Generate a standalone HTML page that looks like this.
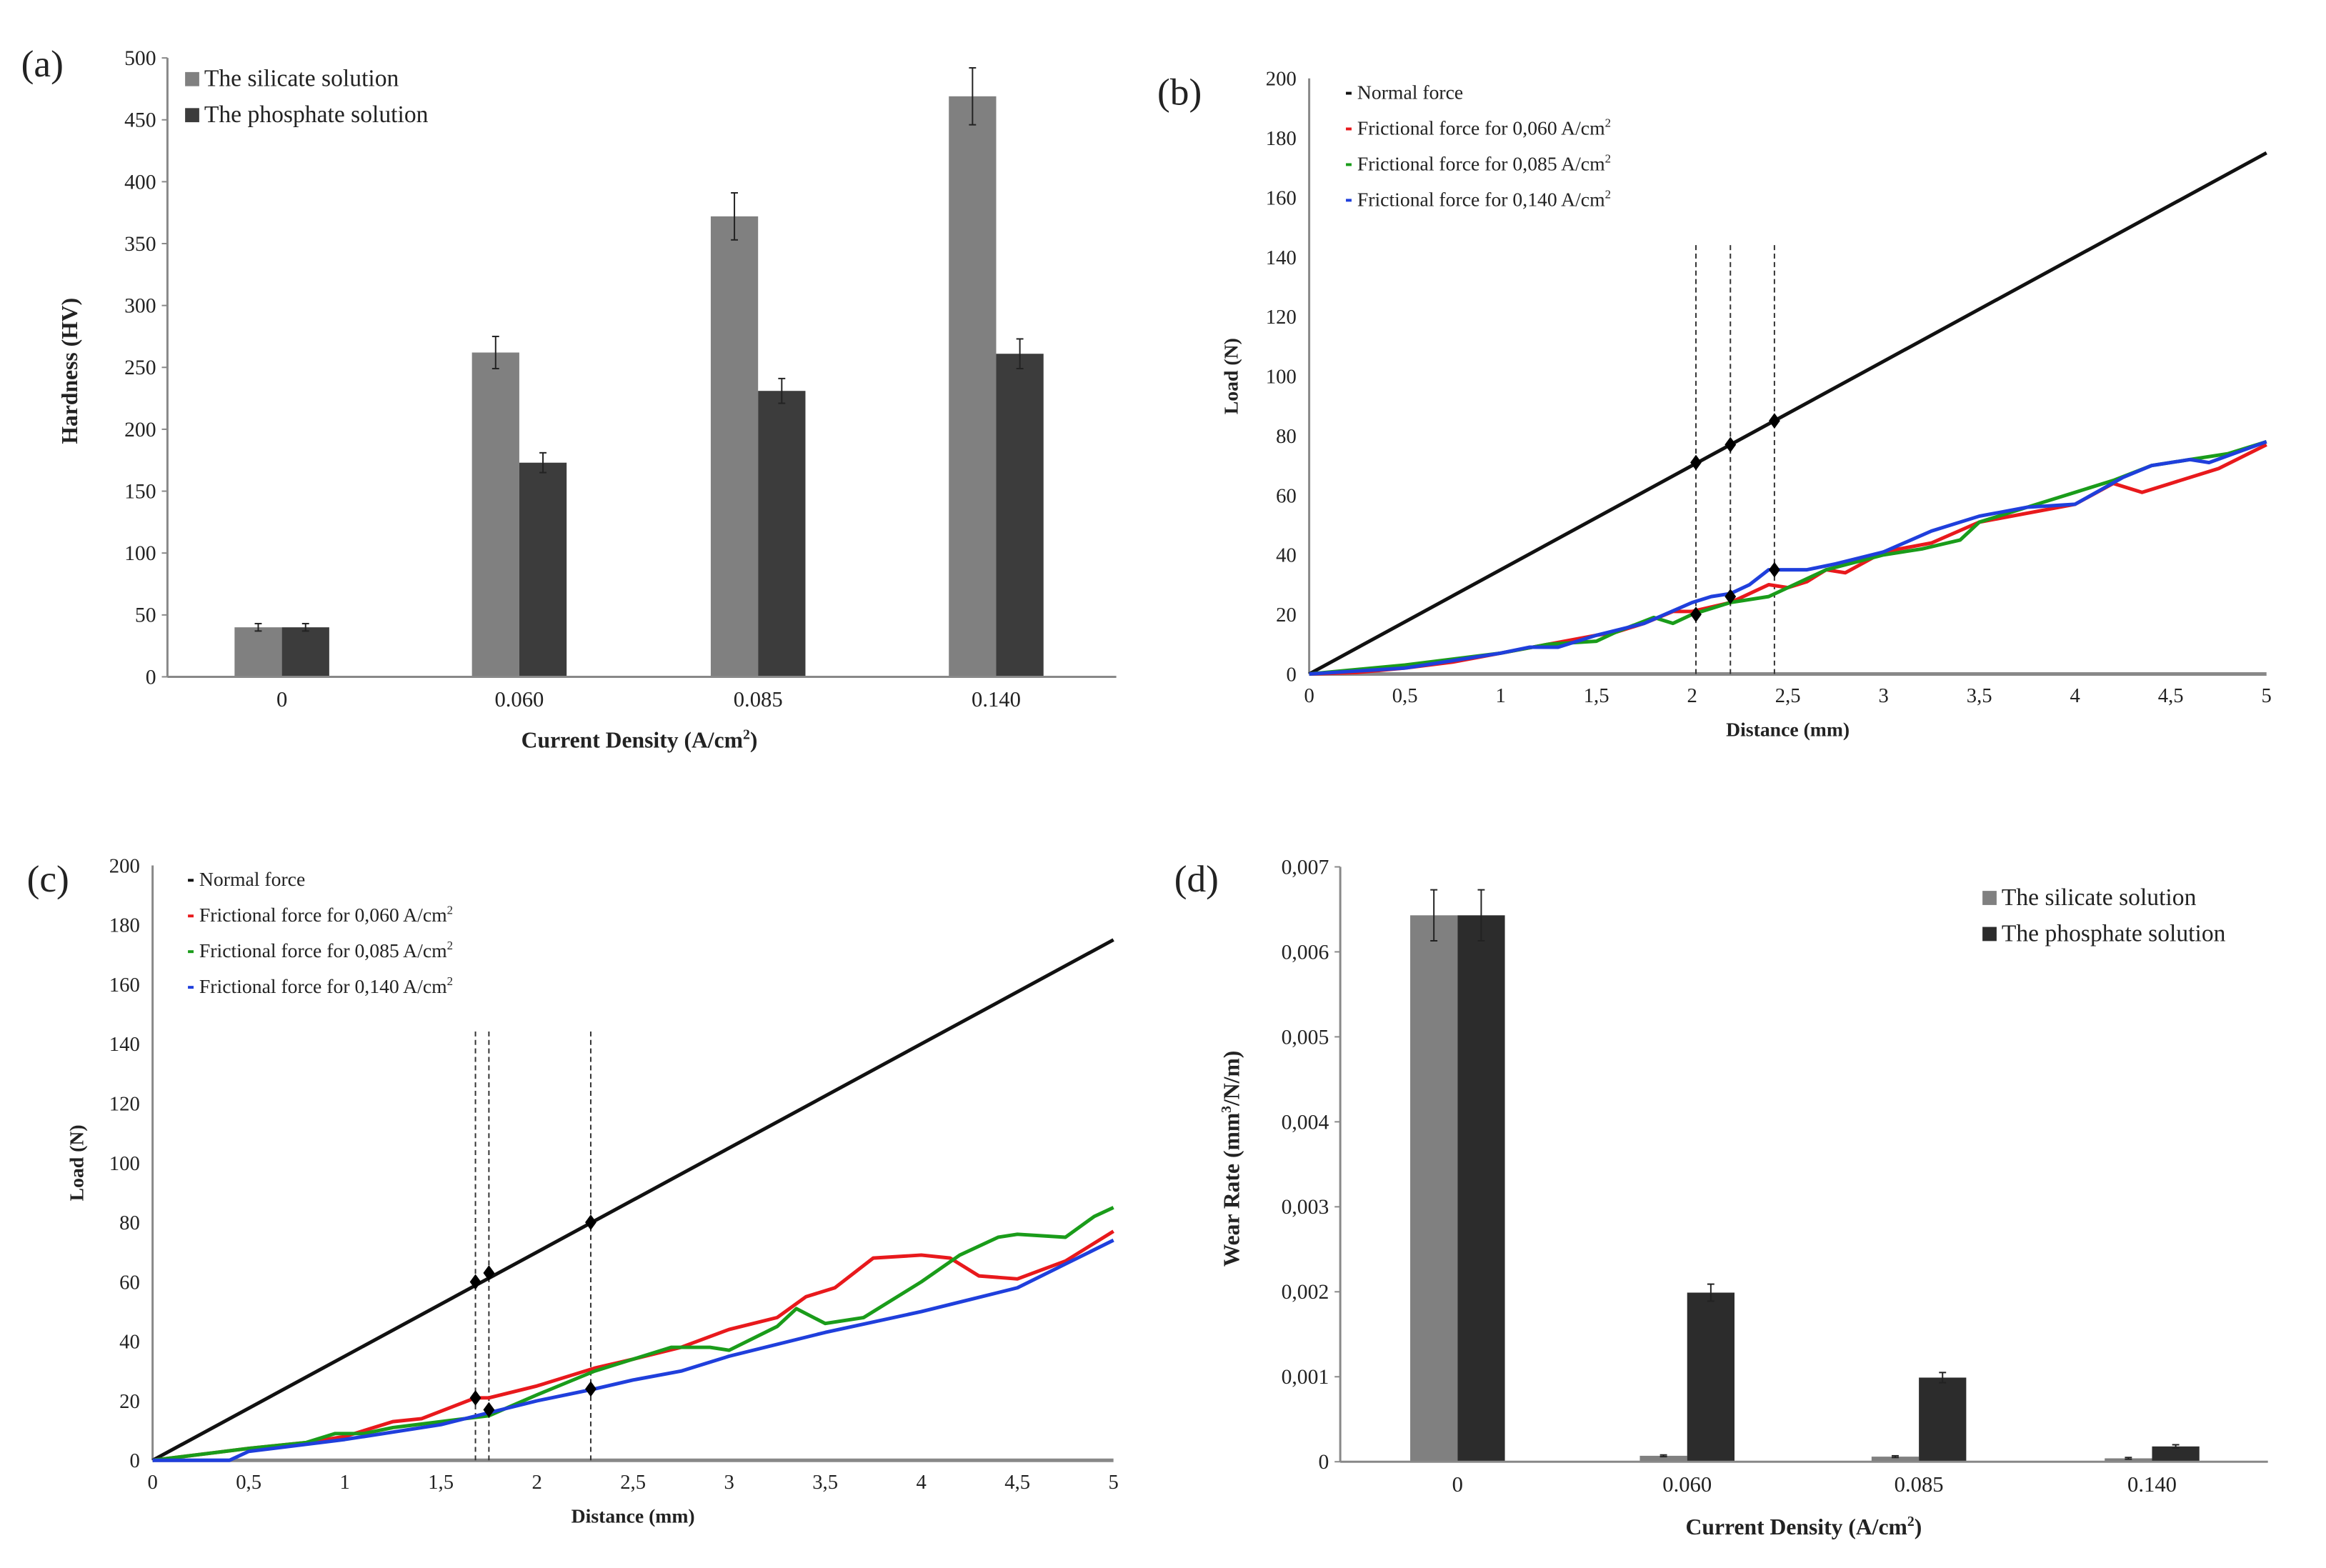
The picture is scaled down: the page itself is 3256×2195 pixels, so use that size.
<!DOCTYPE html>
<html><head><meta charset="utf-8">
<style>
html,body{margin:0;padding:0;background:#fff;}
svg{display:block;font-family:"Liberation Serif",serif;}
</style></head>
<body>
<svg width="3256" height="2195" viewBox="0 0 3256 2195" xmlns="http://www.w3.org/2000/svg"><g id="fig" transform="scale(0.989)"></g></svg>
<script>
// ---------- data ----------
const barCategories = ["0","0.060","0.085","0.140"];
const hardSilicate = [40, 262, 372, 469];
const hardSilicateErr = [3, 13, 19, 23];
const hardPhosphate = [40, 173, 231, 261];
const hardPhosphateErr = [3, 8, 10, 12];
const hardTicks = [0,50,100,150,200,250,300,350,400,450,500];

const wearSilicate = [0.00643, 0.00007, 0.00006, 0.00004];
const wearSilicateErr = [0.0003, 0.00001, 0.00001, 0.00001];
const wearPhosphate = [0.00643, 0.00199, 0.00099, 0.00018];
const wearPhosphateErr = [0.0003, 0.0001, 0.00006, 0.00002];
const wearTicks = [0,0.001,0.002,0.003,0.004,0.005,0.006,0.007];
const wearTickLabels = ["0","0,001","0,002","0,003","0,004","0,005","0,006","0,007"];

const loadTicks = [0,20,40,60,80,100,120,140,160,180,200];
const distTicks = [0,0.5,1,1.5,2,2.5,3,3.5,4,4.5,5];
const distTickLabels = ["0","0,5","1","1,5","2","2,5","3","3,5","4","4,5","5"];
const normalX = [0,5];
const normalY = [0,175];

const bRedX = [0,0.25,0.5,0.75,1,1.25,1.5,1.6,1.75,1.9,2,2.2,2.3,2.4,2.5,2.6,2.7,2.8,3,3.25,3.5,3.75,4,4.2,4.35,4.5,4.75,5];
const bRedY = [0,0.5,2,4,7,10,13,14,17,21,21,24,27,30,29,31,35,34,41,44,51,54,57,64,61,64,69,77];
const bGreenX = [0,0.5,1,1.25,1.5,1.6,1.8,1.9,2,2.2,2.4,2.5,2.7,3,3.2,3.4,3.5,3.75,4,4.2,4.4,4.6,4.8,5];
const bGreenY = [0,3,7,10,11,14,19,17,20,24,26,29,35,40,42,45,51,56,61,65,70,72,74,78];
const bBlueX = [0,0.5,1,1.15,1.3,1.5,1.75,2,2.1,2.2,2.3,2.4,2.6,2.75,3,3.25,3.5,3.75,4,4.25,4.4,4.6,4.7,5];
const bBlueY = [0,2,7,9,9,13,17,24,26,27,30,35,35,37,41,48,53,56,57,66,70,72,71,78];
const bDashX = [2.02,2.2,2.43];
const bNormMark = [71,77,85];
const bFricMark = [20,26,35];

const cRedX = [0,0.5,0.8,1,1.25,1.4,1.68,1.75,2,2.3,2.5,2.75,3,3.25,3.4,3.55,3.75,4,4.15,4.3,4.5,4.75,5];
const cRedY = [0,4,6,8,13,14,21,21,25,31,34,38,44,48,55,58,68,69,68,62,61,67,77];
const cGreenX = [0,0.5,0.8,0.95,1.1,1.25,1.5,1.75,2,2.3,2.5,2.7,2.9,3,3.25,3.35,3.5,3.7,4,4.2,4.4,4.5,4.75,4.9,5];
const cGreenY = [0,4,6,9,9,11,13,15,22,30,34,38,38,37,45,51,46,48,60,69,75,76,75,82,85];
const cBlueX = [0,0.4,0.5,1,1.5,1.75,2,2.3,2.5,2.75,3,3.5,4,4.25,4.5,4.75,5];
const cBlueY = [0,0,3,7,12,16,20,24,27,30,35,43,50,54,58,66,74];
const cDashX = [1.68,1.75,2.28];
const cNormMark = [60,63,80];
const cFricMark = [21,17,24];

// ---------- helpers ----------
const svg = document.getElementById('fig');
const NS = "http://www.w3.org/2000/svg";
function el(tag, attrs, parent){
  const e = document.createElementNS(NS, tag);
  for (const k in attrs) e.setAttribute(k, attrs[k]);
  (parent||svg).appendChild(e);
  return e;
}
function txt(x,y,s,size,opts,parent){
  const t = el('text',{x:x,y:y,'font-size':size,fill:'#222'},parent);
  if(opts) for(const k in opts) t.setAttribute(k,opts[k]);
  t.textContent = s;
  return t;
}
function grp(name){
  const g = el('g',{});
  
  
  return g;
}

// ---------- bar chart ----------
function barChart(cfg){
  const g = grp(cfg.name);
  const sy = v => cfg.y0 + (v - 0) / cfg.ymax * (cfg.y1 - cfg.y0);
  const ya = el('line',{x1:cfg.x0,y1:cfg.y0,x2:cfg.x0,y2:cfg.y1,stroke:'#888','stroke-width':3},g);
  
  
  cfg.ticks.forEach((v,i)=>{
    el('line',{x1:cfg.x0-8,y1:sy(v),x2:cfg.x0,y2:sy(v),stroke:'#888','stroke-width':2},g);
    const t = txt(cfg.x0-16, sy(v)+10, cfg.tickLabels[i], 30, {'text-anchor':'end'}, g);
    
    
  });
  const bw = 67;
  cfg.cats.forEach((c,i)=>{
    const cx = cfg.catX[i];
    const hs = cfg.s1[i], hp = cfg.s2[i];
    const r1 = el('rect',{x:cx-bw,y:sy(hs),width:bw,height:sy(0)-sy(hs),fill:'#808080'},g);
    
    
    const r2 = el('rect',{x:cx,y:sy(hp),width:bw,height:sy(0)-sy(hp),fill:cfg.c2},g);
    
    
    [[cx-bw/2,hs,cfg.e1[i]],[cx+bw/2,hp,cfg.e2[i]]].forEach(([x,v,e])=>{
      el('line',{x1:x,y1:sy(v+e),x2:x,y2:sy(v-e),stroke:'#222','stroke-width':2},g);
      el('line',{x1:x-5,y1:sy(v+e),x2:x+5,y2:sy(v+e),stroke:'#222','stroke-width':2},g);
      el('line',{x1:x-5,y1:sy(v-e),x2:x+5,y2:sy(v-e),stroke:'#222','stroke-width':2},g);
    });
    const t = txt(cx, cfg.y0+42, c, 31, {'text-anchor':'middle'}, g);
    
    
  });
  const xa = el('line',{x1:cfg.x0,y1:cfg.y0,x2:cfg.x2,y2:cfg.y0,stroke:'#888','stroke-width':3},g);
  
  
  const xt = txt(cfg.xtX, cfg.xtY, 'Current Density (A/cm', 32, {'text-anchor':'middle','font-weight':'bold'}, g);
  const sup = el('tspan',{'font-size':20,dy:-12},xt); sup.textContent='2';
  const cl = el('tspan',{dy:12},xt); cl.textContent=')';
  
  
  const yt = txt(0,0,cfg.ytitle,32,{'text-anchor':'middle','font-weight':'bold',transform:`translate(${cfg.ytX},${cfg.ytY}) rotate(-90)`},g);
  if(cfg.ytSup){ yt.textContent='Wear Rate (mm'; const s=el('tspan',{'font-size':20,dy:-12},yt); s.textContent='3'; const r=el('tspan',{dy:12},yt); r.textContent='/N/m)'; }
  
  
  [['The silicate solution','#808080'],['The phosphate solution',cfg.c2]].forEach(([s,c],i)=>{
    const lg = el('g',{},g);
    
    
    el('rect',{x:cfg.lgX,y:cfg.lgY+i*51-20,width:20,height:20,fill:c},lg);
    txt(cfg.lgX+27,cfg.lgY+i*51,s,34,{},lg);
  });
  const pl = txt(cfg.plX,cfg.plY,cfg.panel,54,{},g);
  
  
}

barChart({name:'hardness-chart',cats:barCategories,catX:[399,735,1073,1410],s1:hardSilicate,e1:hardSilicateErr,s2:hardPhosphate,e2:hardPhosphateErr,
  c2:'#3c3c3c',ticks:hardTicks,tickLabels:hardTicks.map(String),ymax:500,x0:237,x2:1580,y0:958,y1:82,
  xtX:905,xtY:1058,ytitle:'Hardness (HV)',ytX:109,ytY:525,lgX:262,lgY:122,panel:'(a)',plX:30,plY:108});
barChart({name:'wear-rate-chart',cats:barCategories,catX:[2063,2388,2716,3046],s1:wearSilicate,e1:wearSilicateErr,s2:wearPhosphate,e2:wearPhosphateErr,
  c2:'#2c2c2c',ticks:wearTicks,tickLabels:wearTickLabels,ymax:0.007,x0:1897,x2:3210,y0:2069,y1:1227,
  xtX:2553,xtY:2172,ytitle:'Wear Rate',ytSup:true,ytX:1754,ytY:1640,lgX:2806,lgY:1281,panel:'(d)',plX:1662,plY:1262});

// ---------- line chart ----------
function lineChart(cfg){
  const g = grp(cfg.name);
  const sx = v => cfg.x0 + v/5*(cfg.x1-cfg.x0);
  const sy = v => cfg.y0 + v/200*(cfg.y1-cfg.y0);
  loadTicks.forEach(v=>{
    const t = txt(cfg.x0-18, sy(v)+10, String(v), 29, {'text-anchor':'end'}, g);
    
    
  });
  distTicks.forEach((v,i)=>{
    const t = txt(sx(v), cfg.y0+40, distTickLabels[i], 29, {'text-anchor':'middle'}, g);
    
    
  });
  const ya = el('line',{x1:cfg.x0,y1:cfg.y0,x2:cfg.x0,y2:cfg.y1,stroke:'#888','stroke-width':3},g);
  
  
  const xa = el('line',{x1:cfg.x0,y1:cfg.y0,x2:cfg.x1,y2:cfg.y0,stroke:'#888','stroke-width':5},g);
  
  
  cfg.dash.forEach(d=>{
    const l = el('line',{x1:sx(d),y1:cfg.y0,x2:sx(d),y2:sy(145),stroke:'#333','stroke-width':2,'stroke-dasharray':'7,5'},g);
    
    
  });
  function series(xs,ys,color,name){
    const p = el('polyline',{points:xs.map((x,i)=>sx(x)+','+sy(ys[i])).join(' '),fill:'none',stroke:color,'stroke-width':5,'stroke-linejoin':'round'},g);
    
    
  }
  series(normalX,normalY,'#111','normal-force-line');
  series(cfg.red[0],cfg.red[1],'#e8191c','friction-0060-line');
  series(cfg.green[0],cfg.green[1],'#1a9c1a','friction-0085-line');
  series(cfg.blue[0],cfg.blue[1],'#1f3fdc','friction-0140-line');
  cfg.dash.forEach((d,i)=>{
    [cfg.nm[i],cfg.fm[i]].forEach(v=>{
      const m = el('path',{d:`M${sx(d)},${sy(v)-11} L${sx(d)+8},${sy(v)} L${sx(d)},${sy(v)+11} L${sx(d)-8},${sy(v)} Z`,fill:'#000'},g);
      
      
    });
  });
  const xt = txt((cfg.x0+cfg.x1)/2, cfg.y0+88, 'Distance (mm)', 28, {'text-anchor':'middle','font-weight':'bold'}, g);
  
  
  const yt = txt(0,0,'Load (N)',28,{'text-anchor':'middle','font-weight':'bold',transform:`translate(${cfg.ytX},${(cfg.y0+cfg.y1)/2}) rotate(-90)`},g);
  
  
  const lab = ['Normal force','Frictional force for 0,060 A/cm','Frictional force for 0,085 A/cm','Frictional force for 0,140 A/cm'];
  const cols = ['#111','#e8191c','#1a9c1a','#1f3fdc'];
  lab.forEach((s,i)=>{
    const lg = el('g',{},g);
    
    
    const y = cfg.lgY + i*50.5;
    el('rect',{x:cfg.lgX,y:y-10,width:8,height:4,fill:cols[i]},lg);
    const t = txt(cfg.lgX+16,y,s,28,{},lg);
    if(i>0){ const sp=el('tspan',{'font-size':17,dy:-11},t); sp.textContent='2'; }
  });
  const pl = txt(cfg.plX,cfg.plY,cfg.panel,54,{},g);
  
  
}
lineChart({name:'friction-chart-b',x0:1853,x1:3208,y0:954,y1:111,red:[bRedX,bRedY],green:[bGreenX,bGreenY],blue:[bBlueX,bBlueY],
  dash:bDashX,nm:bNormMark,fm:bFricMark,ytX:1752,lgX:1905,lgY:140,panel:'(b)',plX:1638,plY:148});
lineChart({name:'friction-chart-c',x0:216,x1:1576,y0:2067,y1:1225,red:[cRedX,cRedY],green:[cGreenX,cGreenY],blue:[cBlueX,cBlueY],
  dash:cDashX,nm:cNormMark,fm:cFricMark,ytX:118,lgX:266,lgY:1254,panel:'(c)',plX:38,plY:1262});
</script>
</body></html>
